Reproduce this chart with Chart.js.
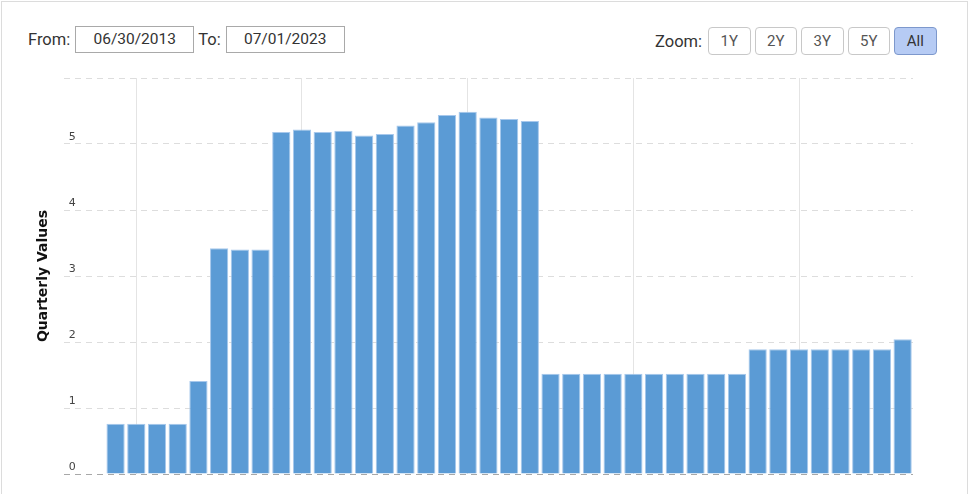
<!DOCTYPE html>
<html>
<head>
<meta charset="utf-8">
<script src="https://cdn.jsdelivr.net/npm/chart.js@4/dist/chart.umd.min.js"></script>
<style>
  html, body { margin: 0; padding: 0; background: #fff; }
  body { width: 970px; height: 494px; overflow: hidden; position: relative; font-family: Roboto, "Noto Sans", sans-serif; }
  .frame { position: absolute; left: 1px; top: 1px; width: 967px; height: 500px; border: 1px solid #dcdcdc; box-sizing: border-box; }
  .range { position: absolute; top: 26px; left: 28px; display: flex; align-items: center; font-size: 16.5px; color: #333; }
  .range .box { width: 119px; height: 27px; border: 1px solid #a9a9a9; box-sizing: border-box; text-align: center; line-height: 25px; font-size: 15.5px; margin: 0 4px 0 5px; }
  .zoom { position: absolute; top: 27px; left: 655px; display: flex; align-items: center; font-size: 16.5px; color: #333; }
  .zoom span { margin-right: 6px; }
  .zoom .btn { width: 42.5px; height: 28px; border: 1px solid #c8c8c8; border-radius: 4px; box-sizing: border-box; text-align: center; line-height: 26px; font-size: 15px; color: #555; margin-right: 4px; }
  .zoom .btn.active { background: #b6cbf4; border-color: #7d98cc; color: #333; }
  #wrap { position: absolute; left: 0; top: 60px; width: 970px; height: 434px; }
</style>
</head>
<body>
<div class="frame"></div>
<div class="range">From:<div class="box">06/30/2013</div>To:<div class="box">07/01/2023</div></div>
<div class="zoom"><span>Zoom:</span><div class="btn">1Y</div><div class="btn">2Y</div><div class="btn">3Y</div><div class="btn">5Y</div><div class="btn active">All</div></div>
<div id="wrap"><canvas id="chart"></canvas></div>
<script>
const quarters = [
  '2013-09-30', '2013-12-31',
  '2014-03-31', '2014-06-30', '2014-09-30', '2014-12-31',
  '2015-03-31', '2015-06-30', '2015-09-30', '2015-12-31',
  '2016-03-31', '2016-06-30', '2016-09-30', '2016-12-31',
  '2017-03-31', '2017-06-30', '2017-09-30', '2017-12-31',
  '2018-03-31', '2018-06-30', '2018-09-30', '2018-12-31',
  '2019-03-31', '2019-06-30', '2019-09-30', '2019-12-31',
  '2020-03-31', '2020-06-30', '2020-09-30', '2020-12-31',
  '2021-03-31', '2021-06-30', '2021-09-30', '2021-12-31',
  '2022-03-31', '2022-06-30', '2022-09-30', '2022-12-31',
  '2023-03-31'
];

const quarterlyValues = [
  0.76, 0.76,
  0.76, 0.76, 1.41, 3.42,
  3.40, 3.40, 5.18, 5.22,
  5.18, 5.20, 5.13, 5.15,
  5.28, 5.33, 5.44, 5.49,
  5.40, 5.38, 5.35, 1.52,
  1.52, 1.52, 1.52, 1.52,
  1.52, 1.52, 1.52, 1.52,
  1.52, 1.89, 1.89, 1.89,
  1.89, 1.89, 1.89, 1.89,
  2.04
];

// vertical grid lines fall at the turn of every second year
const gridDates = ['2013-12-31', '2015-12-31', '2017-12-31', '2019-12-31', '2021-12-31'];

const yTicks = [0, 1, 2, 3, 4, 5, 6];

const points = quarterlyValues.map((v, i) => ({ x: i, y: v }));

new Chart(document.getElementById('chart'), {
  type: 'bar',
  data: {
    datasets: [{
      label: 'Quarterly Values',
      data: points,
      backgroundColor: '#5b9bd5',
      borderColor: '#a7c8ec',
      borderWidth: 1,
      barPercentage: 0.88,
      categoryPercentage: 1
    }]
  },
  options: {
    responsive: true,
    maintainAspectRatio: false,
    animation: false,
    layout: { padding: { left: 33, right: 57, top: 18, bottom: 20 } },
    plugins: { legend: { display: false }, tooltip: { enabled: false } },
    scales: {
      x: {
        type: 'linear',
        offset: false,
        min: -2.5,
        max: quarters.length - 0.5,
        afterBuildTicks: axis => {
          axis.ticks = gridDates.map(d => ({ value: quarters.indexOf(d) }));
        },
        ticks: { display: false },
        grid: { color: '#e4e4e4', drawTicks: false, offset: false },
        border: { display: false }
      },
      y: {
        min: 0,
        max: 6,
        afterBuildTicks: axis => {
          axis.ticks = yTicks.map(v => ({ value: v }));
        },
        ticks: {
          mirror: true,
          padding: 5,
          labelOffset: -7,
          color: '#444',
          font: { family: 'DejaVu Sans', size: 11 },
          callback: v => (v === 6 ? '' : v)
        },
        grid: {
          drawTicks: false,
          color: ctx => (ctx.tick && ctx.tick.value === 0 ? '#a8a8a8' : '#dddddd')
        },
        border: { display: false, dash: [6, 5] },
        title: {
          display: true,
          text: 'Quarterly Values',
          color: '#111',
          padding: { top: 2, bottom: 2 },
          font: { family: 'DejaVu Sans', size: 14, weight: 'bold' }
        }
      }
    }
  }
});
</script>
</body>
</html>
